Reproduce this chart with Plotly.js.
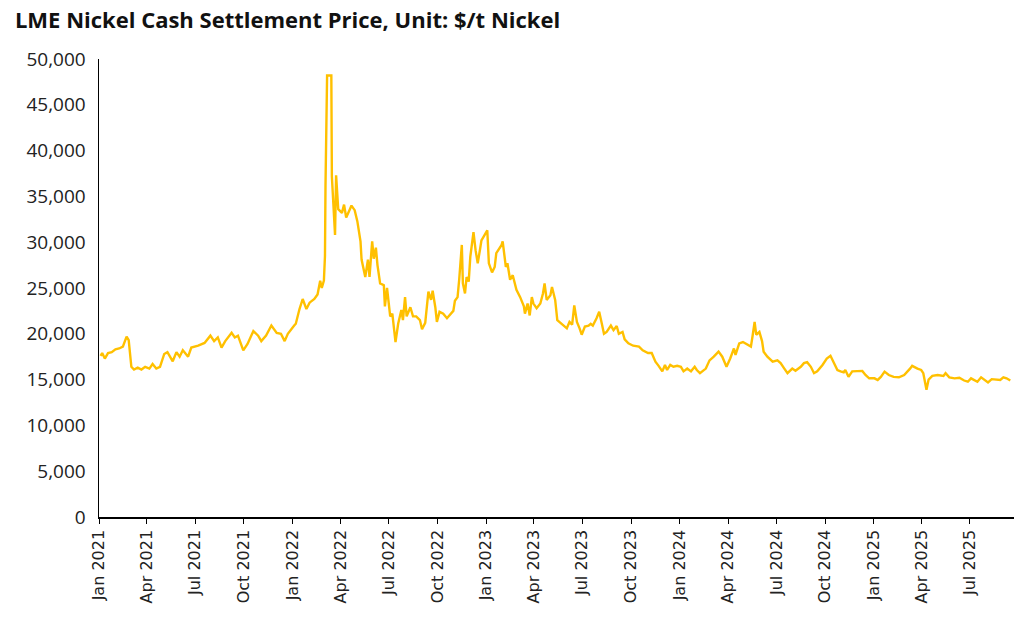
<!DOCTYPE html>
<html>
<head>
<meta charset="utf-8">
<script src="https://cdn.plot.ly/plotly-3.0.1.min.js"></script>
<style>
html,body{margin:0;padding:0;background:#fff;}
#chart{width:1024px;height:621px;}
</style>
</head>
<body>
<div id="chart"></div>
<script>
const titleText = "LME Nickel Cash Settlement Price, Unit: $/t Nickel";

const dates = [
"2021-01-04","2021-01-07","2021-01-12","2021-01-18","2021-01-25","2021-02-01","2021-02-08","2021-02-15","2021-02-22","2021-02-26",
"2021-03-03","2021-03-08","2021-03-15","2021-03-22","2021-03-29","2021-04-06","2021-04-12","2021-04-19","2021-04-26","2021-05-04",
"2021-05-10","2021-05-20","2021-05-27","2021-06-02","2021-06-08","2021-06-18","2021-06-24","2021-07-07","2021-07-19","2021-07-30",
"2021-08-06","2021-08-13","2021-08-20","2021-08-27","2021-09-08","2021-09-14","2021-09-20","2021-09-30","2021-10-08","2021-10-19",
"2021-10-28","2021-11-03","2021-11-12","2021-11-22","2021-12-02","2021-12-10","2021-12-17","2021-12-23",
"2022-01-04","2022-01-07","2022-01-14","2022-01-20","2022-01-27","2022-02-02","2022-02-11","2022-02-17","2022-02-22","2022-02-25",
"2022-03-01","2022-03-03","2022-03-04","2022-03-07","2022-03-15","2022-03-16","2022-03-22","2022-03-24","2022-03-28","2022-04-04",
"2022-04-08","2022-04-12","2022-04-19","2022-04-22","2022-04-28","2022-05-03","2022-05-09","2022-05-11","2022-05-18","2022-05-23",
"2022-05-26","2022-05-31","2022-06-03","2022-06-07","2022-06-10","2022-06-15","2022-06-22","2022-06-24","2022-06-28","2022-07-04",
"2022-07-08","2022-07-14","2022-07-19","2022-07-25","2022-07-28","2022-08-01","2022-08-04","2022-08-11","2022-08-16","2022-08-22",
"2022-08-29","2022-09-02","2022-09-08","2022-09-14","2022-09-19","2022-09-22","2022-09-27","2022-09-30","2022-10-05","2022-10-12",
"2022-10-19","2022-10-26","2022-10-31","2022-11-03","2022-11-08","2022-11-11","2022-11-16","2022-11-18","2022-11-22","2022-11-25",
"2022-11-29","2022-12-02","2022-12-08","2022-12-12","2022-12-16","2022-12-20","2022-12-23","2022-12-28",
"2023-01-03","2023-01-06","2023-01-12","2023-01-17","2023-01-20","2023-01-30","2023-02-01","2023-02-07","2023-02-10","2023-02-15",
"2023-02-20","2023-02-27","2023-03-06","2023-03-13","2023-03-15","2023-03-20","2023-03-24","2023-03-28","2023-03-31","2023-04-06",
"2023-04-13","2023-04-18","2023-04-21","2023-04-25","2023-05-02","2023-05-05","2023-05-11","2023-05-15","2023-05-19","2023-05-26",
"2023-06-02","2023-06-07","2023-06-12","2023-06-16","2023-06-21","2023-06-26","2023-06-30","2023-07-06","2023-07-13","2023-07-17",
"2023-07-21","2023-07-28","2023-08-02","2023-08-07","2023-08-11","2023-08-16","2023-08-24","2023-08-29","2023-09-04","2023-09-08",
"2023-09-15","2023-09-19","2023-09-26","2023-10-05","2023-10-16","2023-10-23","2023-10-27","2023-11-02","2023-11-09","2023-11-16",
"2023-11-22","2023-11-29","2023-12-04","2023-12-08","2023-12-14","2023-12-20","2023-12-27",
"2024-01-03","2024-01-08","2024-01-15","2024-01-22","2024-01-29","2024-02-02","2024-02-08","2024-02-19","2024-02-26","2024-03-05",
"2024-03-14","2024-03-21","2024-03-29","2024-04-05","2024-04-12","2024-04-15","2024-04-22","2024-04-29","2024-05-07","2024-05-14",
"2024-05-17","2024-05-21","2024-05-24","2024-05-30","2024-06-04","2024-06-07","2024-06-14","2024-06-24","2024-07-03","2024-07-09",
"2024-07-16","2024-07-22","2024-07-31","2024-08-06","2024-08-16","2024-08-22","2024-08-28","2024-09-04","2024-09-10","2024-09-16",
"2024-09-26","2024-10-04","2024-10-11","2024-10-17","2024-10-24","2024-10-30","2024-11-05","2024-11-08","2024-11-14","2024-11-21",
"2024-12-02","2024-12-10","2024-12-16","2024-12-23",
"2025-01-02","2025-01-08","2025-01-14","2025-01-21","2025-01-29","2025-02-07","2025-02-17","2025-02-27","2025-03-10","2025-03-14",
"2025-03-24","2025-03-31","2025-04-04","2025-04-08","2025-04-10","2025-04-14","2025-04-21","2025-05-01","2025-05-12","2025-05-16",
"2025-05-23","2025-06-02","2025-06-11","2025-06-20","2025-06-27","2025-07-03","2025-07-09","2025-07-15","2025-07-22","2025-07-28",
"2025-08-04","2025-08-11","2025-08-20","2025-08-27","2025-09-02","2025-09-08","2025-09-15"
];

const prices = [
17600,17900,17300,17900,18000,18300,18400,18600,19700,19300,
16400,16100,16300,16100,16400,16200,16700,16200,16400,17800,
18000,17000,18000,17500,18200,17500,18500,18700,19000,19800,
19200,19600,18500,19200,20100,19600,19800,18200,18900,20300,
19800,19200,19800,20900,20100,20000,19200,20000,
20900,21100,22700,23800,22700,23400,23800,24300,25800,25000,
25800,28500,36200,48200,48200,37200,30800,37300,33600,33200,
34100,32700,33600,34000,33500,32300,30100,28100,26200,28100,
26200,30100,28200,29400,27500,25500,25300,23000,25000,21900,
22200,19100,21100,22600,21500,24000,21900,22900,21900,21900,
21500,20500,21200,24600,23700,24700,22900,21300,22400,22200,
21700,22100,22500,23600,24000,25900,29700,25500,24400,26200,
25700,28400,31100,29100,27700,29100,30200,30700,
31300,27700,26700,27300,28800,29700,30100,27300,27700,25900,
26400,24800,24000,23000,22200,23300,22000,24000,23300,22800,
23300,24400,25500,23700,24200,25100,23700,21500,21300,21000,
20600,21300,21000,23100,21300,20600,19900,20800,20900,21100,
20900,21700,22400,21100,20000,20200,20900,20400,20850,20000,
20200,19400,18960,18700,18600,18200,18050,17900,17900,16950,
16500,15900,16600,16050,16600,16400,16500,
16400,15900,16200,15900,16400,16050,15700,16200,17100,17500,
18050,17500,16400,17300,18400,17700,18960,19100,18800,18600,
19700,21300,19900,20200,19200,18050,17500,16950,17100,16800,
16200,15700,16200,15970,16400,16800,16900,16400,15700,15900,
16600,17300,17600,16950,16050,15900,15800,16050,15300,15900,
15900,15950,15500,15140,
15140,14960,15300,15870,15500,15300,15250,15500,16200,16500,
16200,16050,15700,14200,13900,15000,15400,15500,15400,15700,
15250,15140,15200,14900,14770,15140,14960,14770,15250,14960,
14700,15050,14960,14960,15250,15140,14900
];

const xRange = ["2021-01-01", "2025-09-22"];
const yRange = [0, 50000];

const trace = {
  x: dates,
  y: prices,
  type: "scatter",
  mode: "lines",
  line: {color: "#FFC000", width: 2.4},
  hoverinfo: "x+y"
};

const layout = {
  width: 1024,
  height: 621,
  paper_bgcolor: "#ffffff",
  plot_bgcolor: "#ffffff",
  margin: {l: 99, r: 10, t: 59, b: 104, pad: 0},
  showlegend: false,
  title: {
    text: "<b>" + titleText + "</b>",
    x: 0.0146, xanchor: "left",
    y: 0.968, yanchor: "middle",
    font: {family: "Open Sans, sans-serif", size: 22, color: "#111111"}
  },
  xaxis: {
    type: "date",
    range: xRange,
    tick0: "2021-01-01",
    dtick: "M3",
    tickformat: "%b %Y",
    tickangle: -90,
    ticks: "outside",
    ticklen: 5,
    tickcolor: "#000",
    tickwidth: 1,
    showline: true,
    linecolor: "#000",
    linewidth: 1.5,
    showgrid: false,
    zeroline: false,
    tickfont: {family: "DejaVu Sans, sans-serif", size: 16, color: "#222"}
  },
  yaxis: {
    range: yRange,
    dtick: 5000,
    tickformat: ",d",
    ticks: "",
    showline: true,
    linecolor: "#000",
    linewidth: 1.5,
    showgrid: false,
    zeroline: false,
    ticklabelstandoff: 8,
    tickfont: {family: "Open Sans, sans-serif", size: 19, color: "#222"}
  }
};

Plotly.newPlot("chart", [trace], layout, {displayModeBar: false, staticPlot: true});
</script>
</body>
</html>
